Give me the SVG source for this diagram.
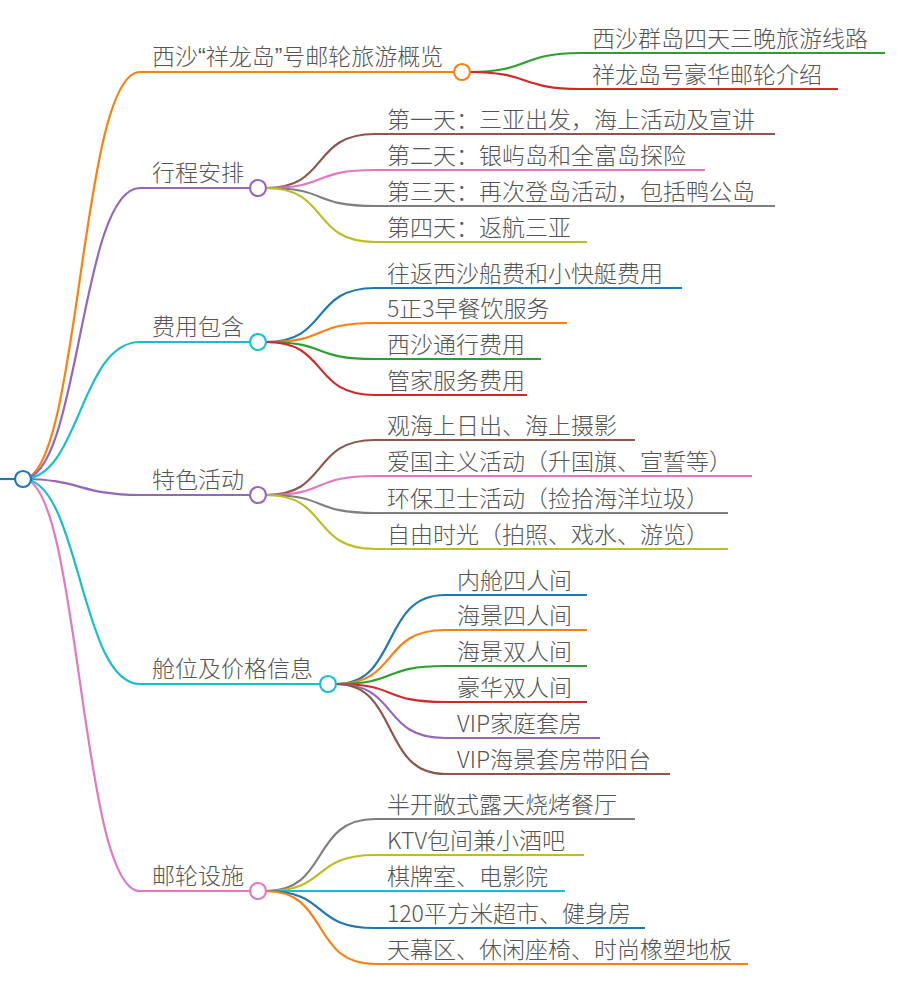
<svg xmlns="http://www.w3.org/2000/svg" width="920" height="990" viewBox="0 0 920 990">
<style>
text{font-family:"Noto Sans CJK SC","Liberation Sans",sans-serif;font-size:23px;fill:#555;font-weight:300}
.q{font-family:"Liberation Sans",sans-serif}
path{fill:none;stroke-width:2.2}
circle{fill:#fff;stroke-width:2.2}
</style>
<rect width="920" height="990" fill="#fff"/>
<g id="connectors">
<path d="M0,479H15" stroke="#1f77b4" stroke-width="3"/>
<path d="M23,479C80,479 80,72 140,72H455" stroke="#ff7f0e"/>
<path d="M23,479C80,479 80,188 140,188H250" stroke="#9467bd"/>
<path d="M23,479C80,479 80,342 140,342H250" stroke="#17becf"/>
<path d="M23,479C80,479 80,495 140,495H250" stroke="#9467bd"/>
<path d="M23,479C80,479 80,684 140,684H320" stroke="#17becf"/>
<path d="M23,479C80,479 80,891 140,891H250" stroke="#e377c2"/>
<path d="M470,72C530,72 520,53 580,53H885" stroke="#2ca02c"/>
<path d="M470,72C530,72 520,89 580,89H838" stroke="#d62728"/>
<path d="M266,188C330,188 310,134 375,134H775" stroke="#8c564b"/>
<path d="M266,188C330,188 310,170 375,170H705" stroke="#e377c2"/>
<path d="M266,188C330,188 310,206 375,206H775" stroke="#7f7f7f"/>
<path d="M266,188C330,188 310,242 375,242H587" stroke="#bcbd22"/>
<path d="M266,342C330,342 310,288 375,288H682" stroke="#1f77b4"/>
<path d="M266,342C330,342 310,323 375,323H567" stroke="#ff7f0e"/>
<path d="M266,342C330,342 310,359 375,359H541" stroke="#2ca02c"/>
<path d="M266,342C330,342 310,395 375,395H527" stroke="#d62728"/>
<path d="M266,495C330,495 310,440 375,440H635" stroke="#8c564b"/>
<path d="M266,495C330,495 310,476 375,476H752" stroke="#e377c2"/>
<path d="M266,495C330,495 310,513 375,513H728" stroke="#7f7f7f"/>
<path d="M266,495C330,495 310,549 375,549H728" stroke="#bcbd22"/>
<path d="M336,684C400,684 380,595 445,595H587" stroke="#1f77b4"/>
<path d="M336,684C400,684 380,630 445,630H587" stroke="#ff7f0e"/>
<path d="M336,684C400,684 380,666 445,666H587" stroke="#2ca02c"/>
<path d="M336,684C400,684 380,702 445,702H587" stroke="#d62728"/>
<path d="M336,684C400,684 380,738 445,738H600" stroke="#9467bd"/>
<path d="M336,684C400,684 380,774 445,774H670" stroke="#8c564b"/>
<path d="M266,891C330,891 310,819 375,819H635" stroke="#7f7f7f"/>
<path d="M266,891C330,891 310,855 375,855H584" stroke="#bcbd22"/>
<path d="M266,891C330,891 310,891 375,891H565" stroke="#17becf"/>
<path d="M266,891C330,891 310,928 375,928H645" stroke="#1f77b4"/>
<path d="M266,891C330,891 310,964 375,964H748" stroke="#ff7f0e"/>
</g>
<g id="root"><circle cx="23" cy="479" r="8" stroke="#1f77b4"/></g>
<g id="n1"><circle cx="462" cy="72" r="8" stroke="#ff7f0e"/><text x="152" y="65">西沙<tspan class="q">“</tspan>祥龙岛<tspan class="q">”</tspan>号邮轮旅游概览</text></g>
<g id="n1a"><text x="592" y="47">西沙群岛四天三晚旅游线路</text></g>
<g id="n1b"><text x="592" y="83">祥龙岛号豪华邮轮介绍</text></g>
<g id="n2"><circle cx="258" cy="188" r="8" stroke="#9467bd"/><text x="152" y="181">行程安排</text></g>
<g id="n2a"><text x="387" y="128">第一天：三亚出发，海上活动及宣讲</text></g>
<g id="n2b"><text x="387" y="164">第二天：银屿岛和全富岛探险</text></g>
<g id="n2c"><text x="387" y="200">第三天：再次登岛活动，包括鸭公岛</text></g>
<g id="n2d"><text x="387" y="236">第四天：返航三亚</text></g>
<g id="n3"><circle cx="258" cy="342" r="8" stroke="#17becf"/><text x="152" y="335">费用包含</text></g>
<g id="n3a"><text x="387" y="282">往返西沙船费和小快艇费用</text></g>
<g id="n3b"><text x="387" y="317">5正3早餐饮服务</text></g>
<g id="n3c"><text x="387" y="353">西沙通行费用</text></g>
<g id="n3d"><text x="387" y="389">管家服务费用</text></g>
<g id="n4"><circle cx="258" cy="495" r="8" stroke="#9467bd"/><text x="152" y="488">特色活动</text></g>
<g id="n4a"><text x="387" y="434">观海上日出、海上摄影</text></g>
<g id="n4b"><text x="387" y="470">爱国主义活动（升国旗、宣誓等）</text></g>
<g id="n4c"><text x="387" y="507">环保卫士活动（捡拾海洋垃圾）</text></g>
<g id="n4d"><text x="387" y="543">自由时光（拍照、戏水、游览）</text></g>
<g id="n5"><circle cx="328" cy="684" r="8" stroke="#17becf"/><text x="152" y="677">舱位及价格信息</text></g>
<g id="n5a"><text x="457" y="589">内舱四人间</text></g>
<g id="n5b"><text x="457" y="624">海景四人间</text></g>
<g id="n5c"><text x="457" y="660">海景双人间</text></g>
<g id="n5d"><text x="457" y="696">豪华双人间</text></g>
<g id="n5e"><text x="457" y="732">VIP家庭套房</text></g>
<g id="n5f"><text x="457" y="768">VIP海景套房带阳台</text></g>
<g id="n6"><circle cx="258" cy="891" r="8" stroke="#e377c2"/><text x="152" y="884">邮轮设施</text></g>
<g id="n6a"><text x="387" y="813">半开敞式露天烧烤餐厅</text></g>
<g id="n6b"><text x="387" y="849">KTV包间兼小酒吧</text></g>
<g id="n6c"><text x="387" y="885">棋牌室、电影院</text></g>
<g id="n6d"><text x="387" y="922">120平方米超市、健身房</text></g>
<g id="n6e"><text x="387" y="958">天幕区、休闲座椅、时尚橡塑地板</text></g>
</svg>
